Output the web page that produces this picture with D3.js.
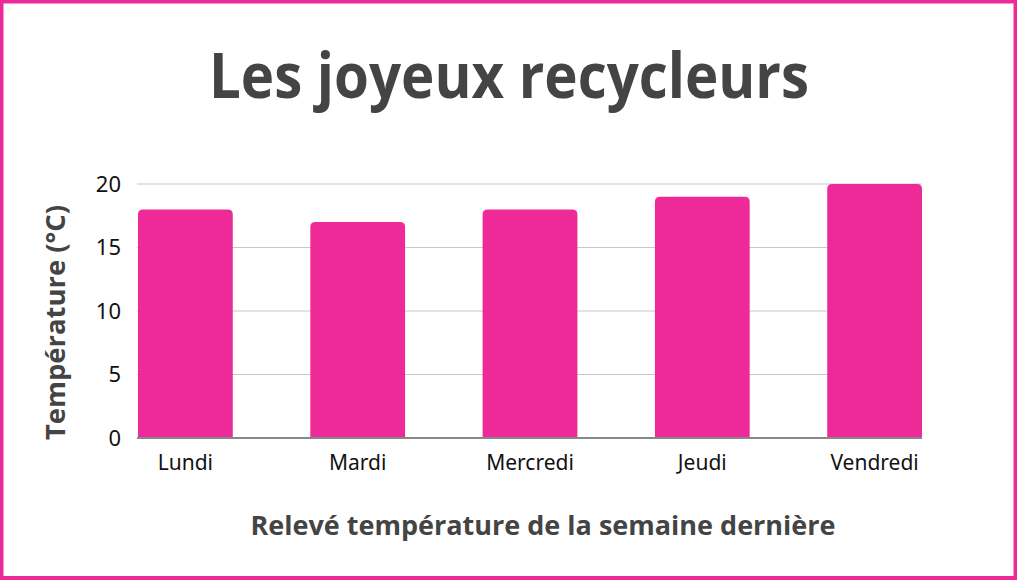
<!DOCTYPE html>
<html><head><meta charset="utf-8">
<script src="https://cdn.jsdelivr.net/npm/d3@7"></script>
<style>
html,body{margin:0;padding:0;background:#fff;}
svg{display:block;}
</style></head>
<body>
<svg id="chart" width="1017" height="581"></svg>
<script>
const categories = ["Lundi", "Mardi", "Mercredi", "Jeudi", "Vendredi"];
const temperatures = [18, 17, 18, 19, 20];
const yTicks = [0, 5, 10, 15, 20];
const title = "Les joyeux recycleurs";
const xTitle = "Relevé température de la semaine dernière";
const yTitle = "Température (°C)";

const svg = d3.select("#chart");
const W = 1017, H = 581;
const pink = "#EE2A98";
const dark = "#444444";

// frame
svg.append("rect").attr("x", 1.5).attr("y", 1.5).attr("width", W - 3).attr("height", H - 4.5)
  .attr("fill", "#fff").attr("stroke", pink).attr("stroke-width", 4);

const x = d3.scaleBand().domain(categories).range([138, 922]).paddingInner(0.45).paddingOuter(0);
const y = d3.scaleLinear().domain([0, 20]).range([438, 184]);

// gridlines
svg.append("g").selectAll("line").data(yTicks.filter(d => d > 0)).join("line")
  .attr("x1", 137).attr("x2", 922)
  .attr("y1", d => y(d)).attr("y2", d => y(d))
  .attr("stroke", "#c8c8c8").attr("stroke-width", 1);

// bars with rounded top corners
const r = 5;
svg.append("g").selectAll("path").data(categories).join("path")
  .attr("fill", pink)
  .attr("d", (c, i) => {
    const x0 = x(c), w = x.bandwidth(), y0 = y(temperatures[i]), yb = y(0);
    return `M${x0},${yb} V${y0 + r} Q${x0},${y0} ${x0 + r},${y0} H${x0 + w - r} Q${x0 + w},${y0} ${x0 + w},${y0 + r} V${yb} Z`;
  });

// baseline axis
svg.append("line").attr("x1", 137).attr("x2", 922).attr("y1", y(0)).attr("y2", y(0))
  .attr("stroke", "#888").attr("stroke-width", 2);

// y tick labels
svg.append("g").selectAll("text").data(yTicks).join("text")
  .attr("x", 121).attr("y", d => y(d)).attr("dy", "0.35em")
  .attr("text-anchor", "end")
  .attr("font-family", "Noto Sans, sans-serif").attr("font-size", 22)
  .attr("fill", "#111").text(d => d);

// x tick labels
svg.append("g").selectAll("text").data(categories).join("text")
  .attr("x", c => x(c) + x.bandwidth() / 2).attr("y", 470)
  .attr("text-anchor", "middle")
  .attr("font-family", "Noto Sans, sans-serif").attr("font-size", 21)
  .attr("fill", "#111").text(c => c);

// title
svg.append("text").attr("x", 509).attr("y", 98).attr("text-anchor", "middle")
  .attr("font-family", "Open Sans, sans-serif").attr("font-weight", 700)
  .attr("font-size", 63).attr("fill", dark)
  .attr("textLength", 600).attr("lengthAdjust", "spacingAndGlyphs").text(title);

// x axis title
svg.append("text").attr("x", 543).attr("y", 535).attr("text-anchor", "middle")
  .attr("font-family", "Open Sans, sans-serif").attr("font-weight", 700)
  .attr("font-size", 27).attr("fill", dark)
  .attr("textLength", 585).attr("lengthAdjust", "spacingAndGlyphs").text(xTitle);

// y axis title
svg.append("text").attr("transform", "translate(65,322.5) rotate(-90)")
  .attr("text-anchor", "middle")
  .attr("font-family", "Open Sans, sans-serif").attr("font-weight", 700)
  .attr("font-size", 27).attr("fill", dark)
  .attr("textLength", 235).attr("lengthAdjust", "spacingAndGlyphs").text(yTitle);
</script>
</body></html>
